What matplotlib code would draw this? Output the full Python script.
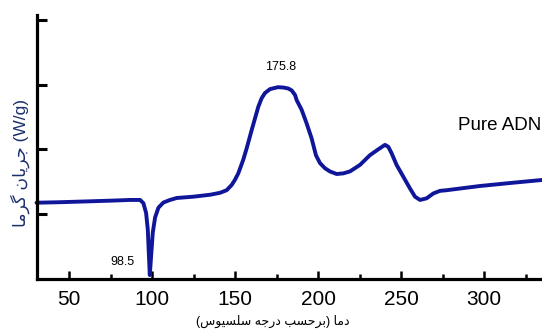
import matplotlib
matplotlib.use("Agg")
import matplotlib.pyplot as plt

# DSC trace of pure ADN: temperature (°C) and heat flow (W/g, arbitrary offset)
temperature = [30.24, 44.4, 62.5, 77.5, 86.6,
               92.66, 94.64, 96.27, 97.3, 97.9, 98.5, 99.28, 100.31, 101.69, 103.68,
               106.69, 110.7, 114.7, 124.7, 134.8, 140.8, 144.8, 147.8, 149.8, 151.8,
               154.8, 156.9, 159.9, 161.9, 163.9, 165.9, 167.9, 170.9, 174.9, 175.8,
               178.9, 181.9, 184.0, 186.0, 187.0, 190.0, 193.0, 196.0, 198.6, 201.0,
               204.0, 207.0, 211.1, 215.1, 219.1, 225.1, 231.1, 236.1, 240.2, 242.2,
               244.2, 247.2, 251.2, 255.2, 258.3, 261.3, 265.3, 269.3, 273.3, 277.3,
               297.4, 317.5, 334.8]
heat_flow = [1.177, 1.185, 1.199, 1.211, 1.22,
             1.22, 1.17, 1.02, 0.76, 0.40, 0.06, 0.35, 0.72, 0.95, 1.10,
             1.18, 1.22, 1.25, 1.27, 1.30, 1.33, 1.37, 1.45, 1.53, 1.63,
             1.84, 2.02, 2.30, 2.48, 2.66, 2.79, 2.87, 2.93, 2.955, 2.96,
             2.955, 2.94, 2.91, 2.84, 2.76, 2.61, 2.40, 2.17, 1.91, 1.79,
             1.71, 1.66, 1.62, 1.63, 1.66, 1.76, 1.91, 2.00, 2.07, 2.04,
             1.94, 1.76, 1.58, 1.40, 1.27, 1.22, 1.245, 1.32, 1.36, 1.37,
             1.435, 1.486, 1.528]

dip_T, dip_v = 98.5, 0.06
peak_T, peak_v = 175.8, 2.96
x_ticks = [50, 100, 150, 200, 250, 300]
x_minor = [75, 125, 175, 225, 275, 325]
y_ticks = [1, 2, 3, 4]

# Persian labels written in visual order with Arabic presentation forms
w_heat = "\uFE8E\uFEE3\uFEAE\uFB94"               # گرما
w_flow = "\uFEE5\uFE8E\uFBFE\uFEAE\uFE9F"         # جریان
w_temp = "\uFE8E\uFEE3\uFEA9"                     # دما
w_per = "\uFE90\uFEB4\uFEA3\uFEAE\uFE91"          # برحسب
w_deg = "\uFEEA\uFE9F\uFEAD\uFEA9"                # درجه
w_cel = "\uFEB1\uFEEE\uFBFF\uFEB4\uFEE0\uFEB3"    # سلسیوس
y_label = w_heat + " " + w_flow + " (W/g)"
x_label = "(" + w_cel + " " + w_deg + " " + w_per + ") " + w_temp
sample_name = "Pure ADN"

fonts = ["Liberation Sans", "DejaVu Sans"]
plt.rcParams["font.family"] = fonts

W, H = 542, 329
fig = plt.figure(figsize=(W / 100, H / 100), dpi=100)
ax = fig.add_axes([36.5 / W, 50 / H, (W - 36.5) / W, 264.4 / H])

ax.plot(temperature, heat_flow, color="#10169a", lw=2.8,
        solid_joinstyle="round", solid_capstyle="round", clip_on=False)

ax.set_xlim(30.24, 334.8)
ax.set_ylim(0, 4.08)

for s in ("top", "right"):
    ax.spines[s].set_visible(False)
for s in ("left", "bottom"):
    ax.spines[s].set_linewidth(2.3)
    ax.spines[s].set_color("black")

ax.set_xticks(x_ticks)
ax.set_xticks(x_minor, minor=True)
ax.set_yticks(y_ticks)
ax.set_yticklabels([])
ax.tick_params(axis="x", which="major", direction="in", length=6, width=1.8,
               pad=8, labelsize=15)
ax.tick_params(axis="x", which="minor", direction="in", length=3.5, width=1.8)
ax.tick_params(axis="y", which="major", direction="in", length=7, width=2.2)

ax.annotate(f"{peak_T}", xy=(peak_T, peak_v), xytext=(2, 14.5),
            textcoords="offset points", ha="center", va="center", fontsize=9)
ax.annotate(f"{dip_T}", xy=(dip_T, dip_v), xytext=(-11, 9.3),
            textcoords="offset points", ha="right", va="center", fontsize=9)

fig.text(541 / W, 1 - 126 / H, sample_name, ha="right", va="center", fontsize=13.5)
fig.text(20 / W, 1 - 163 / H, y_label, rotation=90, ha="center", va="center",
         fontsize=12.5, color="#1c2f6b")
fig.text(273 / W, 1 - 321 / H, x_label, ha="center", va="center", fontsize=9)

fig.savefig("out.png", dpi=100)
